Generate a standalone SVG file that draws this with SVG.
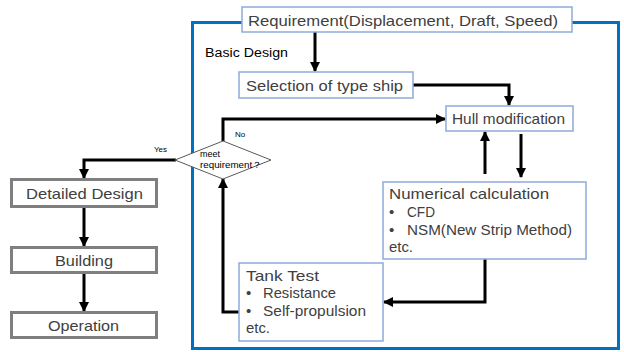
<svg xmlns="http://www.w3.org/2000/svg" width="624" height="352" viewBox="0 0 624 352">
  <defs>
    <marker id="arrow" viewBox="0 0 10 10" refX="9" refY="5" markerWidth="3.4" markerHeight="3.4" orient="auto" markerUnits="strokeWidth">
      <path d="M0,0 L10,5 L0,10 z" fill="#000"/>
    </marker>
    <style>
      .frame { fill: none; stroke: #0070C0; stroke-width: 3; }
      .box { fill: #fff; stroke: #8FAADC; stroke-width: 1.5; }
      .gbox { fill: #fff; stroke: #7F7F7F; stroke-width: 3; }
      .dia { fill: #fff; stroke: #595959; stroke-width: 1; }
      .t { font-family: "Liberation Sans", Arial, sans-serif; fill: #404040; font-size: 15px; }
      .s { font-family: "Liberation Sans", Arial, sans-serif; fill: #000; }
      .edge { fill: none; stroke: #000; stroke-width: 3; }
    </style>
  </defs>
  <rect width="624" height="352" fill="#fff"/>

  <!-- Basic design boundary -->
  <rect class="frame" x="192.5" y="22.5" width="426" height="326"/>
  <text class="s" x="205" y="57" font-size="12.5" textLength="83" lengthAdjust="spacingAndGlyphs">Basic Design</text>

  <!-- connectors -->
  <g id="connectors">
    <path class="edge" d="M315,32 V71" marker-end="url(#arrow)"/>
    <path class="edge" d="M413,85 H509 V105" marker-end="url(#arrow)"/>
    <path class="edge" d="M223,141 V119 H445" marker-end="url(#arrow)"/>
    <path class="edge" d="M485,174 V132" marker-end="url(#arrow)"/>
    <path class="edge" d="M521,134 V177" marker-end="url(#arrow)"/>
    <path class="edge" d="M485,259 V302 H384" marker-end="url(#arrow)"/>
    <path class="edge" d="M239,312 H223 V179" marker-end="url(#arrow)"/>
    <path class="edge" d="M176,160 H84 V178" marker-end="url(#arrow)"/>
    <path class="edge" d="M84,207 V246" marker-end="url(#arrow)"/>
    <path class="edge" d="M84,273 V311" marker-end="url(#arrow)"/>
  </g>

  <g id="requirement">
    <rect class="box" x="242" y="7" width="330" height="25"/>
    <text class="t" x="248" y="26" font-size="16.5" textLength="310" lengthAdjust="spacingAndGlyphs">Requirement(Displacement, Draft, Speed)</text>
  </g>

  <g id="selection">
    <rect class="box" x="239" y="72" width="174" height="26"/>
    <text class="t" x="246" y="91" font-size="16.5" textLength="157" lengthAdjust="spacingAndGlyphs">Selection of type ship</text>
  </g>

  <g id="hull">
    <rect class="box" x="446" y="106" width="127" height="25"/>
    <text class="t" x="452" y="124" font-size="15.5" textLength="113" lengthAdjust="spacingAndGlyphs">Hull modification</text>
  </g>

  <g id="numerical">
    <rect class="box" x="383" y="182" width="203" height="77"/>
    <text class="t" x="389" y="199" textLength="160" lengthAdjust="spacingAndGlyphs">Numerical calculation</text>
    <text class="t" x="389" y="217">•</text>
    <text class="t" x="407" y="217" textLength="28" lengthAdjust="spacingAndGlyphs">CFD</text>
    <text class="t" x="389" y="235">•</text>
    <text class="t" x="407" y="235" textLength="165" lengthAdjust="spacingAndGlyphs">NSM(New Strip Method)</text>
    <text class="t" x="389" y="252" textLength="24" lengthAdjust="spacingAndGlyphs">etc.</text>
  </g>

  <g id="tank">
    <rect class="box" x="239" y="263" width="144" height="78"/>
    <text class="t" x="246" y="281" textLength="73" lengthAdjust="spacingAndGlyphs">Tank Test</text>
    <text class="t" x="246" y="298">•</text>
    <text class="t" x="263" y="298" textLength="73" lengthAdjust="spacingAndGlyphs">Resistance</text>
    <text class="t" x="246" y="316">•</text>
    <text class="t" x="263" y="316" textLength="103" lengthAdjust="spacingAndGlyphs">Self-propulsion</text>
    <text class="t" x="246" y="333" textLength="24" lengthAdjust="spacingAndGlyphs">etc.</text>
  </g>

  <g id="decision">
    <polygon class="dia" points="175,160 223,141 271,160 223,179"/>
    <text class="s" x="200" y="157" font-size="9">meet</text>
    <text class="s" x="200" y="168" font-size="9" textLength="62" lengthAdjust="spacingAndGlyphs">requirement？</text>
    <text class="s" x="235" y="137" font-size="8">No</text>
    <text class="s" x="154" y="152" font-size="8">Yes</text>
  </g>

  <g id="detailed">
    <rect class="gbox" x="11.5" y="179.5" width="145" height="27"/>
    <text class="t" x="26" y="199" font-size="16.5" textLength="117" lengthAdjust="spacingAndGlyphs">Detailed Design</text>
  </g>

  <g id="building">
    <rect class="gbox" x="11.5" y="247.5" width="145" height="25"/>
    <text class="t" x="55" y="266" font-size="16.5" textLength="58" lengthAdjust="spacingAndGlyphs">Building</text>
  </g>

  <g id="operation">
    <rect class="gbox" x="11.5" y="312.5" width="145" height="25"/>
    <text class="t" x="48" y="331" font-size="16.5" textLength="71" lengthAdjust="spacingAndGlyphs">Operation</text>
  </g>
</svg>
